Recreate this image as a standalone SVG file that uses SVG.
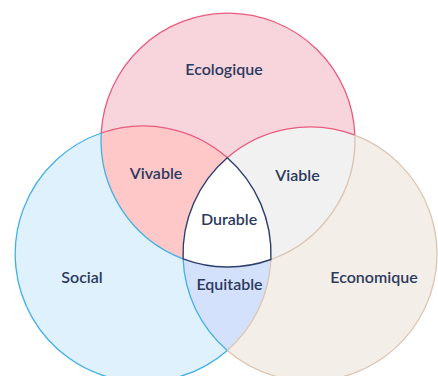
<svg xmlns="http://www.w3.org/2000/svg" width="438" height="376" viewBox="0 0 438 376">
  <style>
    .label { font-family: Lato, "Open Sans", "DejaVu Sans", sans-serif; font-size: 16px; font-weight: 600; fill: #2c3a60; text-anchor: middle; }
    .edge { fill: none; stroke-width: 1.3; }
    .pink { stroke: #ea5b7e; }
    .blue { stroke: #41b0ea; }
    .tan { stroke: #dbc5b1; }
    .navy { stroke: #2d3f6e; stroke-width: 1.4; }
  </style>
  <rect width="438" height="376" fill="#ffffff"/>

  <!-- single-set areas: full circles, overlaps painted over them -->
  <g id="ecologique">
    <circle cx="228" cy="140" r="127" fill="#f8d5dd"/>
  </g>
  <g id="social">
    <circle cx="143" cy="254" r="128" fill="#dff1fc"/>
  </g>
  <g id="economique">
    <circle cx="310" cy="254" r="127" fill="#f4eee8"/>
  </g>

  <!-- pairwise overlaps -->
  <g id="vivable">
    <path d="M101.2,133 A128,128 0 0 1 227.3,157.7 A127,127 0 0 0 183.1,258.8 A127,127 0 0 1 101.2,133 Z" fill="#fec8c9"/>
  </g>
  <g id="viable">
    <path d="M227.3,157.7 A127,127 0 0 1 354.9,135.2 A127,127 0 0 1 270.9,259.5 A128,128 0 0 0 227.3,157.7 Z" fill="#f1f1f1"/>
  </g>
  <g id="equitable">
    <path d="M183.1,258.8 A127,127 0 0 0 270.9,259.5 A128,128 0 0 1 227.3,350.4 A127,127 0 0 1 183.1,258.8 Z" fill="#d4e1fc"/>
  </g>

  <!-- triple overlap -->
  <g id="durable">
    <path d="M227.3,157.7 A127,127 0 0 0 183.1,258.8 A127,127 0 0 0 270.9,259.5 A128,128 0 0 0 227.3,157.7 Z" fill="#ffffff"/>
  </g>

  <!-- outlines: each arc takes the colour of the set it runs through -->
  <g id="outlines">
    <path class="edge pink" d="M101.2,133 A127,127 0 0 1 354.9,135.2"/>
    <path class="edge blue" d="M101.2,133 A128,128 0 1 0 227.3,350.4"/>
    <path class="edge tan" d="M354.9,135.2 A127,127 0 1 1 227.3,350.4"/>
    <path class="edge pink" d="M101.2,133 A128,128 0 0 1 227.3,157.7"/>
    <path class="edge pink" d="M227.3,157.7 A127,127 0 0 1 354.9,135.2"/>
    <path class="edge blue" d="M101.2,133 A127,127 0 0 0 183.1,258.8"/>
    <path class="edge blue" d="M183.1,258.8 A127,127 0 0 0 227.3,350.4"/>
    <path class="edge tan" d="M354.9,135.2 A127,127 0 0 1 270.9,259.5"/>
    <path class="edge tan" d="M270.9,259.5 A128,128 0 0 1 227.3,350.4"/>
    <path class="edge navy" d="M227.3,157.7 A127,127 0 0 0 183.1,258.8 A127,127 0 0 0 270.9,259.5 A128,128 0 0 0 227.3,157.7 Z"/>
  </g>

  <!-- labels -->
  <g id="labels">
    <text class="label" x="224" y="75">Ecologique</text>
    <text class="label" x="82" y="283">Social</text>
    <text class="label" x="374" y="283">Economique</text>
    <text class="label" x="156" y="179">Vivable</text>
    <text class="label" x="297.5" y="181">Viable</text>
    <text class="label" x="229.5" y="290">Equitable</text>
    <text class="label" x="229" y="225">Durable</text>
  </g>
</svg>
